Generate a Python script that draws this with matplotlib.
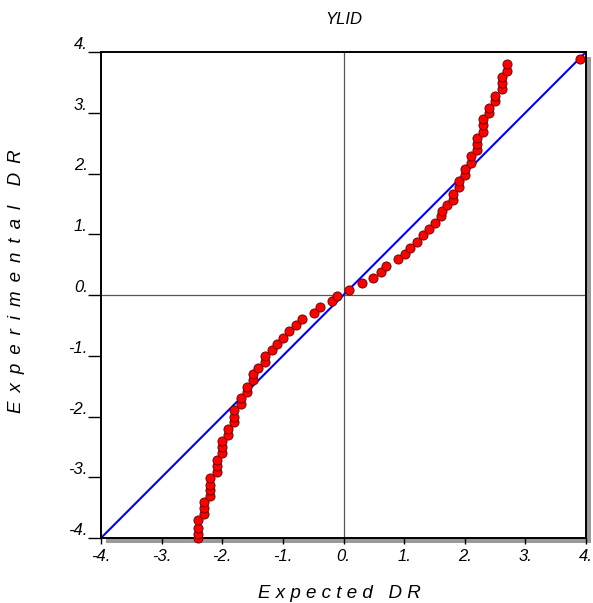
import matplotlib

matplotlib.use("Agg")
import matplotlib.pyplot as plt
from matplotlib.patches import Rectangle

plt.rcParams["font.family"] = ["Liberation Sans", "DejaVu Sans"]

title = "YLID"
x_label = "E x p e c t e d   D R"
y_label = "E \u2009x \u2009p \u2009e \u2009r \u2009i \u2009m \u2009e \u2009n \u2009t \u2009a \u2009l \u2009  D \u2009R"

ticks = [-4, -3, -2, -1, 0, 1, 2, 3, 4]
tick_labels = ["-4.", "-3.", "-2.", "-1.", "0.", "1.", "2.", "3.", "4."]

expected = [
    -2.406, -2.406, -2.406, -2.406,
    -2.297, -2.297, -2.297,
    -2.203, -2.203, -2.203, -2.203,
    -2.092, -2.092, -2.092,
    -2.005, -2.005, -2.005,
    -1.901, -1.901,
    -1.802, -1.802, -1.802,
    -1.691, -1.691,
    -1.597, -1.597,
    -1.493, -1.493,
    -1.411, -1.295, -1.287, -1.185, -1.092, -0.993, -0.894, -0.784, -0.690,
    -0.490, -0.388, -0.190, -0.099, 0.083, 0.300, 0.492, 0.614, 0.701,
    0.904, 1.015, 1.097, 1.208, 1.312, 1.414, 1.510, 1.609, 1.617, 1.703,
    1.804, 1.804, 1.911, 1.911, 2.005, 2.005, 2.099, 2.099,
    2.198, 2.198, 2.198, 2.297, 2.297, 2.297, 2.406, 2.406,
    2.500, 2.500, 2.611, 2.611, 2.611, 2.703, 2.703, 3.903,
]
experimental = [
    -4.00, -3.93, -3.84, -3.71,
    -3.61, -3.51, -3.41,
    -3.31, -3.21, -3.12, -3.01,
    -2.91, -2.82, -2.72,
    -2.60, -2.50, -2.40,
    -2.30, -2.21,
    -2.09, -2.00, -1.89,
    -1.79, -1.70,
    -1.59, -1.51,
    -1.40, -1.30,
    -1.20, -1.10, -1.00, -0.90, -0.80, -0.71, -0.60, -0.50, -0.40,
    -0.30, -0.19, -0.10, -0.01, 0.08, 0.19, 0.28, 0.38, 0.48,
    0.59, 0.68, 0.78, 0.88, 0.98, 1.08, 1.19, 1.30, 1.39, 1.48,
    1.57, 1.67, 1.77, 1.88, 1.98, 2.07, 2.17, 2.28,
    2.39, 2.48, 2.58, 2.68, 2.80, 2.89, 3.00, 3.08,
    3.20, 3.28, 3.39, 3.49, 3.59, 3.69, 3.80, 3.89,
]

fig = plt.figure(figsize=(5.93, 6.03), dpi=100)
left, bottom, width, height = 101 / 593, 1 - 538 / 603, 485 / 593, 486 / 603

# drop shadow on right / bottom edge
fig.patches.append(Rectangle((left + 5 / 593, bottom - 5 / 603), width, height,
                             transform=fig.transFigure, facecolor="#9a9a9a",
                             edgecolor="none", zorder=0))
ax = fig.add_axes([left, bottom, width, height], zorder=1)
ax.set_facecolor("white")

ax.axhline(0, color="#555555", lw=0.9, zorder=1)
ax.axvline(0, color="#555555", lw=0.9, zorder=1)
ax.plot([-4, 4], [-4, 4], color="#0000ff", lw=1.5, zorder=2)
ax.plot(expected, experimental, "o", ms=6.6, mfc="#ff0000", mec="#5a0000",
        mew=0.6, zorder=3, clip_on=False)

ax.set_xlim(-4, 4)
ax.set_ylim(-4, 4)
ax.set_xticks(ticks)
ax.set_yticks(ticks)
ax.set_xticklabels(tick_labels, fontsize=12, style="italic")
ax.set_yticklabels(tick_labels, fontsize=12, style="italic")
ax.tick_params(axis="x", direction="out", length=4, width=1, pad=4)
ax.tick_params(axis="y", direction="out", length=9.5, width=1, pad=0)
for lab in ax.get_yticklabels():
    lab.set_verticalalignment("bottom")
for s in ax.spines.values():
    s.set_linewidth(1.4)

fig.text((101 + 586) / 2 / 593, 1 - 20 / 603, title, ha="center", va="center",
         fontsize=12, style="italic")
fig.text(339 / 593, 1 - 593 / 603, x_label, ha="center", va="center",
         fontsize=13.5, style="italic")
fig.text(17 / 593, 1 - 281 / 603, y_label, ha="center", va="center",
         fontsize=13.5, style="italic", rotation=90)

fig.savefig("out.png", dpi=100, facecolor="white")
